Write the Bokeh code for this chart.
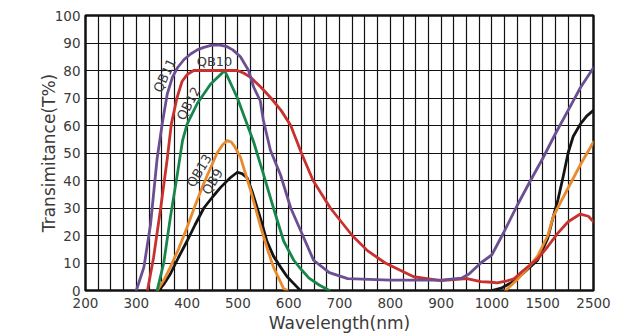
import numpy as np
from bokeh.plotting import figure
from bokeh.models import Range1d, FixedTicker, Label
from bokeh.embed import file_html
from bokeh.resources import INLINE

# ---- axis definition (non-linear wavelength scale) ----
tick_wavelengths = [200, 300, 400, 500, 600, 700, 800, 900, 1000, 1500, 2500]
tick_labels = ["200", "300", "400", "500", "600", "700", "800", "900", "1000", "1500", "2500"]
y_ticks = [0, 10, 20, 30, 40, 50, 60, 70, 80, 90, 100]

# ---- data (wavelength nm, transmittance %) ----
qb11_wl = [300, 315, 328, 341, 351, 361, 371, 381, 394, 407, 420, 433, 447, 462, 477, 490, 505, 521, 531, 544, 550, 564, 584, 604, 623, 649, 680, 716, 800, 900, 940, 955, 978, 1000, 1115, 1250, 1380, 1500, 1750, 2000, 2250, 2500]
qb11_t  = [0, 8.5, 24, 48, 60.6, 71.5, 77.5, 81, 84, 86, 87.5, 88.4, 89.1, 89.3, 88.8, 87.5, 85, 80, 74, 69, 62, 51, 42, 30, 22, 11, 6.5, 4.3, 3.8, 3.8, 4.5, 6, 10, 13, 21, 31, 40, 48, 57, 65.5, 74, 81]

qb10_wl = [322, 334, 348, 361, 369, 380, 390, 400, 413, 450, 499, 512, 525, 545, 565, 585, 604, 625, 648, 682, 725, 755, 790, 846, 899, 951, 978, 1000, 1050, 1150, 1215, 1300, 1450, 1600, 1790, 2000, 2240, 2400, 2500]
qb10_t  = [0, 12, 30, 48, 60.6, 70, 76, 78.5, 80, 80, 80, 79, 77.5, 74, 70, 65.5, 60, 50, 40, 30, 20, 14.5, 10, 5, 3.6, 4.3, 3.2, 3, 2.8, 3.5, 4.2, 7, 11.5, 16, 20.7, 25, 27.8, 27, 25]

qb12_wl = [341, 354, 367, 381, 391, 400, 420, 446, 474, 499, 515, 531, 550, 570, 590, 610, 623, 640, 660, 680]
qb12_t  = [0, 10, 26.5, 42.5, 54.5, 60.5, 68, 75, 80, 70, 62, 54, 42.5, 30, 18, 11, 8, 4.5, 2, 0]

qb13_wl = [341, 355, 367, 383, 400, 416, 433, 459, 470, 479, 487, 493, 505, 525, 545, 560, 570, 590, 597]
qb13_t  = [0, 4, 8.5, 15, 23, 31, 39, 50, 53, 54.5, 54, 52.5, 48.5, 36.4, 23, 14, 8.5, 0.7, 0]
qb13_nir_wl = [1135, 1250, 1350, 1450, 1600, 1710, 1850, 2050, 2250, 2500]
qb13_nir_t  = [0, 4, 8, 12.5, 20, 27, 32, 39, 46, 54]

qb9_wl = [344, 355, 367, 383, 400, 416, 433, 450, 466, 485, 499, 508, 518, 528, 538, 548, 557, 570, 584, 597, 610, 623]
qb9_t  = [0, 2.5, 6, 12, 18, 24, 30, 34, 37.5, 41, 43, 42.5, 41, 36, 30, 24, 18, 12.5, 8.5, 5, 2.5, 0]
qb9_nir_wl = [1000, 1100, 1200, 1300, 1450, 1600, 1710, 1800, 1910, 2000, 2100, 2240, 2370, 2500]
qb9_nir_t  = [0, 1, 3, 6, 11, 19, 27, 33, 42, 50, 56, 60.5, 63.5, 65.5]

positions = list(range(len(tick_wavelengths)))


def xpos(wl):
    return np.interp(np.asarray(wl, dtype=float), tick_wavelengths, positions)


p = figure(width=640, height=335, output_backend="svg", toolbar_location=None,
           x_range=Range1d(0, 10), y_range=Range1d(0, 100),
           min_border_left=85, min_border_right=47, min_border_top=15, min_border_bottom=45)
p.background_fill_color = "white"
p.border_fill_color = "white"
p.outline_line_color = "#111111"
p.outline_line_width = 2.5

# grids
p.xgrid.ticker = FixedTicker(ticks=[i * 0.25 for i in range(41)])
p.ygrid.ticker = FixedTicker(ticks=y_ticks)
for g in (p.xgrid, p.ygrid):
    g.grid_line_color = "#111111"
    g.grid_line_width = 1.2
    g.grid_line_alpha = 1.0

# axes
p.xaxis.ticker = FixedTicker(ticks=positions)
p.xaxis.major_label_overrides = {i: lab for i, lab in zip(positions, tick_labels)}
p.yaxis.ticker = FixedTicker(ticks=y_ticks)
for ax in (p.xaxis, p.yaxis):
    ax.axis_line_color = None
    ax.major_tick_line_color = None
    ax.minor_tick_line_color = None
    ax.major_tick_out = 0
    ax.major_tick_in = 0
    ax.major_label_text_font = "DejaVu Sans"
    ax.major_label_text_font_size = "13.5px"
    ax.major_label_text_color = "#3a3a3a"
    ax.axis_label_text_font = "DejaVu Sans"
    ax.axis_label_text_font_size = "17px"
    ax.axis_label_text_font_style = "normal"
    ax.axis_label_text_color = "#3a3a3a"
p.xaxis.axis_label = "Wavelength(nm)"
p.yaxis.axis_label = "Transimitance(T%)"
p.xaxis.major_label_standoff = 7
p.yaxis.major_label_standoff = 5
p.xaxis.axis_label_standoff = 2
p.yaxis.axis_label_standoff = -7

lw = 2.8
c_purple = "#6b4f92"
c_red = "#c8312d"
c_green = "#17864a"
c_orange = "#e98a2c"
c_black = "#141414"

kw = dict(line_width=lw, line_join="round", line_cap="round")
p.line(xpos(qb9_wl), qb9_t, line_color=c_black, **kw)
p.line(xpos(qb9_nir_wl), qb9_nir_t, line_color=c_black, **kw)
p.line(xpos(qb13_wl), qb13_t, line_color=c_orange, **kw)
p.line(xpos(qb13_nir_wl), qb13_nir_t, line_color=c_orange, **kw)
p.line(xpos(qb12_wl), qb12_t, line_color=c_green, **kw)
p.line(xpos(qb10_wl), qb10_t, line_color=c_red, **kw)
p.line(xpos(qb11_wl), qb11_t, line_color=c_purple, **kw)

# curve labels
labels = [
    ("QB11", 1.56, 78.2, 65),
    ("QB10", 2.54, 83.3, 0),
    ("QB12", 2.03, 68.0, 62),
    ("QB13", 2.24, 43.6, 59),
    ("QB9", 2.50, 39.6, 59),
]
for txt, x, y, ang in labels:
    p.add_layout(Label(x=x, y=y, text=txt, angle=ang, angle_units="deg",
                       text_align="center", text_baseline="middle",
                       text_font="DejaVu Sans", text_font_size="13px",
                       text_color="#3a3a3a"))

open("out.html", "w").write(file_html(p, INLINE))
